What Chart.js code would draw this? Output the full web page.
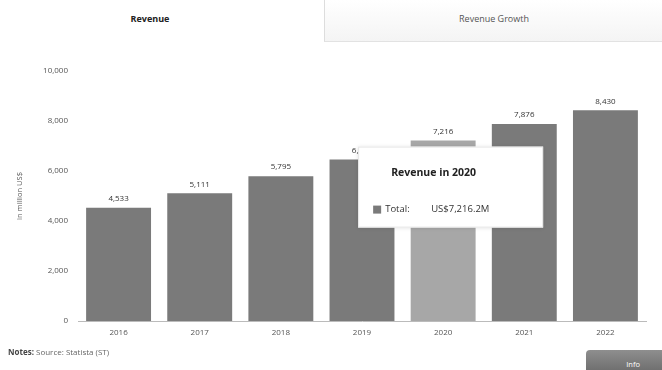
<!DOCTYPE html>
<html>
<head>
<meta charset="utf-8">
<script src="https://cdn.jsdelivr.net/npm/chart.js@4/dist/chart.umd.min.js"></script>
<style>
  html, body { margin: 0; padding: 0; background: #fff; }
  body { width: 662px; height: 370px; position: relative; overflow: hidden; font-family: "Open Sans", "DejaVu Sans", sans-serif; }
  #chart { position: absolute; left: 0; top: 0; }
  .tab { position: absolute; top: 0; height: 41px; line-height: 38px; text-align: center; font-size: 9px; color: #333; }
  #tab1 { left: 0; width: 300px; font-weight: bold; color: #222; }
  #tab2 { left: 324px; width: 338px; border-left: 1px solid #ddd; border-bottom: 1px solid #e2e2e2; background: linear-gradient(#ffffff, #f4f4f4); color: #555; }
  #source { position: absolute; left: 8px; top: 346px; font-size: 8px; color: #666; }
  #source b { color: #444; }
  #info { position: absolute; left: 586px; top: 350px; width: 76px; height: 20px; background: linear-gradient(#8e8e8e, #707070); border-top-left-radius: 4px; color: #fff; font-size: 7.5px; text-align: right; box-sizing: border-box; padding: 9px 22px 0 0; }
</style>
</head>
<body>
<div class="tab" id="tab1">Revenue</div>
<div class="tab" id="tab2">Revenue Growth</div>
<canvas id="chart" width="662" height="370"></canvas>
<div id="source"><b>Notes:</b> Source: Statista (ST)</div>
<div id="info">Info</div>
<script>
// Revenue per year, in million US$
const years = ['2016', '2017', '2018', '2019', '2020', '2021', '2022'];
const revenue = [4533, 5111, 5795, 6463, 7216.2, 7876, 8430];
const barColors = ['#7a7a7a', '#7a7a7a', '#7a7a7a', '#7a7a7a', '#a7a7a7', '#7a7a7a', '#7a7a7a'];
const yTicks = [0, 2000, 4000, 6000, 8000, 10000];
const highlightIndex = 4;

const FONT = '"Open Sans", "DejaVu Sans", sans-serif';
const fmt = v => Math.round(v).toLocaleString('en-US');

// value labels above each bar
const valueLabels = {
  id: 'valueLabels',
  afterDatasetsDraw(chart) {
    const ctx = chart.ctx;
    const meta = chart.getDatasetMeta(0);
    ctx.save();
    ctx.font = '8px ' + FONT;
    ctx.fillStyle = '#333';
    ctx.textAlign = 'center';
    ctx.textBaseline = 'bottom';
    meta.data.forEach((bar, i) => {
      ctx.fillText(fmt(revenue[i]), bar.x, bar.y - 5);
    });
    ctx.restore();
  }
};

// fixed info box for the highlighted year
const infoBox = {
  id: 'infoBox',
  afterDraw(chart) {
    const ctx = chart.ctx;
    const bar = chart.getDatasetMeta(0).data[highlightIndex];
    const w = 185, h = 81;
    const x = bar.x - 85, y = bar.y + 6;
    ctx.save();
    ctx.shadowColor = 'rgba(0,0,0,0.12)';
    ctx.shadowBlur = 4;
    ctx.fillStyle = '#fff';
    ctx.fillRect(x, y, w, h);
    ctx.shadowColor = 'transparent';
    ctx.strokeStyle = '#e6e6e6';
    ctx.lineWidth = 1;
    ctx.strokeRect(x + 0.5, y + 0.5, w - 1, h - 1);
    ctx.fillStyle = '#222';
    ctx.textBaseline = 'middle';
    ctx.font = 'bold 10.5px ' + FONT;
    ctx.textAlign = 'left';
    ctx.fillText('Revenue in ' + years[highlightIndex], x + 33, y + 26);
    ctx.fillStyle = barColors[0];
    ctx.fillRect(x + 15, y + 59, 8, 8);
    ctx.fillStyle = '#333';
    ctx.font = '9.5px ' + FONT;
    ctx.fillText('Total:', x + 27, y + 63);
    ctx.fillText('US$' + revenue[highlightIndex].toLocaleString('en-US', {minimumFractionDigits: 1, maximumFractionDigits: 1}) + 'M', x + 73, y + 63);
    ctx.restore();
  }
};

new Chart(document.getElementById('chart'), {
  type: 'bar',
  data: {
    labels: years,
    datasets: [{
      label: 'Total',
      data: revenue,
      backgroundColor: barColors,
      borderWidth: 0,
      barPercentage: 0.8,
      categoryPercentage: 1.0
    }]
  },
  options: {
    responsive: false,
    animation: false,
    events: [],
    layout: { padding: { top: 71, right: 16, bottom: 28, left: 0 } },
    plugins: { legend: { display: false }, tooltip: { enabled: false } },
    scales: {
      x: {
        grid: { display: false, drawTicks: false },
        border: { display: true, color: '#bbb' },
        ticks: { font: { family: FONT, size: 8 }, color: '#555', padding: 7, maxRotation: 0 },
        afterFit(s) { s.height = 21; }
      },
      y: {
        min: 0, max: 10000,
        afterBuildTicks(s) { s.ticks = yTicks.map(v => ({ value: v })); },
        grid: { display: false, drawTicks: false },
        border: { display: false },
        ticks: { font: { family: FONT, size: 8 }, color: '#555', padding: 10, callback: v => fmt(v) },
        title: { display: true, text: 'in million US$', font: { family: FONT, size: 7.5 }, color: '#555', padding: { top: 15, bottom: 0 } },
        afterFit(s) { s.width = 78; }
      }
    }
  },
  plugins: [valueLabels, infoBox]
});
</script>
</body>
</html>
